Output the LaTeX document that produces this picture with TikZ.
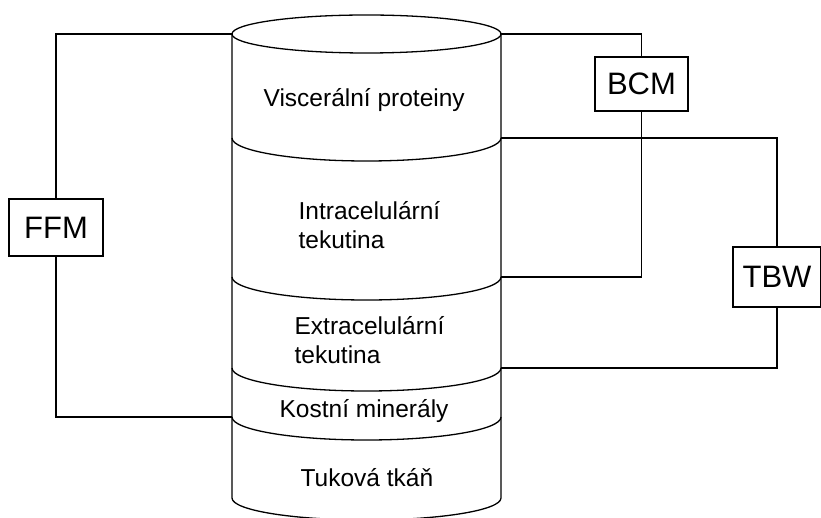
\documentclass[tikz,border=0pt]{standalone}
\usepackage{fontspec}
\setmainfont{Liberation Sans}
\begin{document}
\begin{tikzpicture}[x=1pt,y=-1pt,line width=1.3pt,
  box/.style={draw,inner sep=0pt,font=\fontsize{31}{34}\selectfont},
  body/.style={inner sep=0pt,anchor=base west,align=left,font=\fontsize{24.5}{29}\selectfont}]
\clip (0,0) rectangle (821,518);
% cylinder
\draw (366.5,34) ellipse [x radius=134.5, y radius=19];
\draw (232,34) -- (232,498) arc[start angle=180,end angle=0,x radius=134.5,y radius=22] -- (501,34);
\foreach \yy in {138,277,368,417}
  \draw (232,\yy) arc[start angle=180,end angle=0,x radius=134.5,y radius=23];
% cylinder points
\coordinate (topL) at (232,34);
\coordinate (topR) at (501,34);
\coordinate (sepL4) at (232,417);
\coordinate (sepR1) at (501,138);
\coordinate (sepR2) at (501,277);
\coordinate (sepR3) at (501,368);
% labels
\node[body] (visc) at (263,107) {Viscerální proteiny};
\node[body] (intra) at (298,249) {Intracelulární\\tekutina};
\node[body] (extra) at (294,363) {Extracelulární\\tekutina};
\node[body] (kost) at (279,417) {Kostní minerály};
\node[body] (tuk) at (300,486) {Tuková tkáň};
% boxes
\node[box,minimum width=94pt,minimum height=57pt] (ffm) at (56,227.5) {FFM};
\node[box,minimum width=93pt,minimum height=54pt] (bcm) at (641.5,84) {BCM};
\node[box,minimum width=88pt,minimum height=60pt] (tbw) at (777,277) {TBW};
% connectors
\draw (ffm.north) |- (topL);
\draw (ffm.south) |- (sepL4);
\draw (bcm.north) |- (topR);
\draw (bcm.south) |- (sepR2);
\draw (sepR1) -| (tbw.north);
\draw (tbw.south) |- (sepR3);
\end{tikzpicture}
\end{document}
